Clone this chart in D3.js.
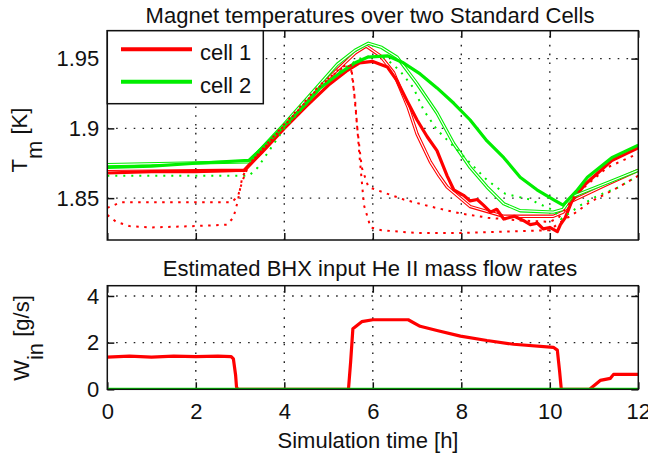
<!DOCTYPE html>
<html>
<head>
<meta charset="utf-8">
<script src="https://cdn.jsdelivr.net/npm/d3@7"></script>
<style>
  body { margin: 0; background: #fff; }
  text { font-family: "Liberation Sans", Arial, sans-serif; fill: #111; }
</style>
</head>
<body>
<div id="chart"></div>
<script>
// ---- data ([time h, value]) ----
var xTicks = [0, 2, 4, 6, 8, 10, 12],
    tempTicks = [1.85, 1.9, 1.95],
    flowTicks = [0, 2, 4];

// cell 1 (red)
var redThick = [[0,1.868],[1,1.869],[2,1.869],[3.1,1.870],[3.5,1.883],[4,1.900],[4.5,1.916],[5,1.931],[5.4,1.941],[5.7,1.947],[6.0,1.948],[6.33,1.944],[6.55,1.934],[6.77,1.920],[7.0,1.906],[7.23,1.894],[7.45,1.884],[7.68,1.866],[7.83,1.856],[8.05,1.852],[8.2,1.848],[8.36,1.849],[8.5,1.845],[8.66,1.840],[8.8,1.842],[8.96,1.835],[9.2,1.837],[9.4,1.834],[9.56,1.831],[9.72,1.832],[9.85,1.828],[10.0,1.829],[10.17,1.826],[10.24,1.831],[10.35,1.836],[10.5,1.848],[10.8,1.860],[11.4,1.877],[12,1.886]];
var redThin = [[0,1.869],[3.1,1.870],[4,1.901],[4.8,1.930],[5.3,1.945],[5.6,1.954],[5.85,1.959],[6.17,1.952],[6.47,1.940],[6.8,1.915],[7.0,1.896],[7.3,1.876],[7.5,1.866],[7.68,1.858],[8.2,1.844],[8.96,1.837],[10.08,1.837],[10.3,1.840],[10.5,1.848],[11.3,1.860],[12,1.870]];
var redDotA = [[0,1.843],[0.3,1.847],[2.8,1.847],[2.95,1.851],[3.05,1.862],[3.2,1.874],[4,1.902],[4.8,1.930],[5.3,1.944],[5.5,1.946],[5.55,1.935],[5.65,1.900],[5.75,1.872],[5.9,1.858],[6.25,1.854],[6.7,1.849],[7.3,1.844],[7.98,1.839],[8.6,1.836],[9.3,1.834],[10.0,1.833],[10.2,1.836],[10.6,1.853],[11.3,1.872],[12,1.882]];
var redDotB = [[0,1.838],[0.2,1.833],[0.5,1.830],[1,1.829],[2,1.830],[2.7,1.831],[2.85,1.836],[2.95,1.848],[3.05,1.865],[3.2,1.874],[4,1.903],[4.8,1.931],[5.3,1.943],[5.5,1.945],[5.6,1.920],[5.7,1.880],[5.8,1.845],[5.95,1.829],[6.2,1.827],[7,1.825],[8,1.825],[9,1.826],[10,1.827],[10.2,1.832],[10.6,1.840],[10.9,1.847],[11.5,1.857],[12,1.866]];
// cell 2 (green)
var greenThick = [[0,1.872],[1,1.873],[2,1.875],[3.2,1.877],[3.5,1.886],[4,1.902],[4.5,1.918],[4.81,1.929],[5.27,1.940],[5.6,1.947],[5.88,1.951],[6.33,1.952],[6.69,1.947],[7.07,1.939],[7.45,1.929],[7.83,1.918],[8.2,1.906],[8.58,1.891],[8.96,1.879],[9.33,1.865],[9.71,1.856],[10.08,1.849],[10.3,1.845],[10.6,1.855],[10.85,1.865],[11.4,1.879],[12,1.888]];
var greenThin = [[0,1.874],[3.2,1.876],[4,1.903],[4.81,1.932],[5.2,1.946],[5.6,1.956],[5.9,1.961],[6.2,1.958],[6.55,1.951],[7.0,1.932],[7.45,1.911],[7.83,1.889],[8.2,1.872],[8.58,1.858],[8.96,1.846],[9.33,1.841],[10.08,1.840],[10.3,1.842],[10.5,1.851],[11.3,1.861],[12,1.870]];
var greenDot = [[0,1.866],[3.2,1.866],[3.4,1.872],[4,1.900],[4.8,1.928],[5.3,1.942],[5.7,1.950],[6.0,1.952],[6.3,1.950],[6.62,1.941],[6.92,1.929],[7.15,1.913],[7.45,1.899],[8.05,1.880],[8.58,1.863],[9.0,1.853],[9.55,1.849],[10.1,1.841],[10.25,1.835],[10.7,1.845],[11.1,1.852],[11.5,1.857],[12,1.866]];

// mass flow rates
var redFlow = [[0,1.38],[0.5,1.42],[1,1.38],[1.5,1.42],[2,1.40],[2.5,1.42],[2.8,1.40],[2.85,1.3],[2.9,0.6],[2.92,0.1],[2.95,0],[5.45,0],[5.5,1.2],[5.55,2.6],[5.75,2.9],[6.0,2.98],[6.8,2.98],[7.07,2.7],[7.45,2.52],[7.98,2.28],[8.58,2.09],[9.18,1.93],[10.08,1.8],[10.17,1.68],[10.22,0.8],[10.26,0],[10.9,0],[11.14,0.38],[11.37,0.47],[11.44,0.64],[12,0.64]];
var greenFlow = [[0,0],[12,0]];

var RED = '#ff0000', GREEN = '#00ee00';

// ---- layout ----
var width = 648, height = 458,
    left = 107.3, right = 638.3,
    top1 = 30.7, bot1 = 240,
    top2 = 285.7, bot2 = 389.3;

var svg = d3.select('#chart').append('svg')
    .attr('width', width)
    .attr('height', height);

var x = d3.scaleLinear().domain([0, 12]).range([left, right]),
    yT = d3.scaleLinear().domain([1.82, 1.97]).range([bot1, top1]),
    yW = d3.scaleLinear().domain([0, 4.44]).range([bot2, top2]);

function drawAxes(y, yTicks, yTop, yBot, showX, clipId) {
  // dotted grid
  var grid = svg.append('g')
      .attr('stroke', '#222')
      .attr('stroke-width', 1.4)
      .attr('stroke-dasharray', '1.6,7.2');
  grid.selectAll('.gx').data(xTicks.slice(1, -1)).enter().append('line')
      .attr('x1', function(d) { return x(d); }).attr('x2', function(d) { return x(d); })
      .attr('y1', yBot).attr('y2', yTop);
  grid.selectAll('.gy').data(yTicks.filter(function(d) { return y(d) > yTop + 1 && y(d) < yBot - 1; })).enter().append('line')
      .attr('y1', function(d) { return y(d); }).attr('y2', function(d) { return y(d); })
      .attr('x1', left).attr('x2', right);

  svg.append('clipPath').attr('id', clipId).append('rect')
      .attr('x', left).attr('y', yTop).attr('width', right - left).attr('height', yBot - yTop);

  // axes with inward ticks on all four sides
  var ax = [
    [d3.axisBottom(x).tickValues(xTicks).tickFormat(showX ? d3.format('d') : ''), 'translate(0,' + yBot + ')'],
    [d3.axisTop(x).tickValues(xTicks).tickFormat(''), 'translate(0,' + yTop + ')'],
    [d3.axisLeft(y).tickValues(yTicks).tickFormat(function(d) { return String(d); }), 'translate(' + left + ',0)'],
    [d3.axisRight(y).tickValues(yTicks).tickFormat(''), 'translate(' + right + ',0)']
  ];
  ax.forEach(function(a, i) {
    var g = svg.append('g')
        .attr('transform', a[1])
        .call(a[0].tickSize(-7).tickSizeOuter(0).tickPadding(i === 0 ? 14 : 8));
    g.select('.domain').remove();
    g.selectAll('line').attr('stroke', '#111').attr('stroke-width', 1.5);
    g.selectAll('text').attr('font-size', 22).attr('fill', '#111')
      .style('font-family', '"Liberation Sans", Arial, sans-serif');
  });
}

function plotLine(data, y, clipId, color, w, dash) {
  var line = d3.line().x(function(d) { return x(d[0]); }).y(function(d) { return y(d[1]); });
  var p = svg.append('path')
      .datum(data)
      .attr('clip-path', 'url(#' + clipId + ')')
      .attr('fill', 'none')
      .attr('stroke', color)
      .attr('stroke-width', w)
      .attr('stroke-linejoin', 'round')
      .attr('d', line);
  if (dash) p.attr('stroke-dasharray', dash);
  return p;
}

// thin model lines render as a pair of hairlines
function plotDouble(data, y, clipId, color) {
  plotLine(data, y, clipId, color, 3.4);
  plotLine(data, y, clipId, '#fff', 1.2);
}

function frame(yTop, yBot) {
  svg.append('rect')
      .attr('x', left).attr('y', yTop)
      .attr('width', right - left).attr('height', yBot - yTop)
      .attr('fill', 'none').attr('stroke', '#111').attr('stroke-width', 1.5);
}

// ---- top panel: magnet temperatures ----
drawAxes(yT, tempTicks, top1, bot1, false, 'clipT');
plotDouble(redThin, yT, 'clipT', RED);
plotLine(redThick, yT, 'clipT', RED, 3.2);
plotDouble(greenThin, yT, 'clipT', GREEN);
plotLine(greenThick, yT, 'clipT', GREEN, 3.2);
plotLine(greenDot, yT, 'clipT', GREEN, 2, '2,6');
plotLine(redDotA, yT, 'clipT', RED, 2, '2.5,5.5');
plotLine(redDotB, yT, 'clipT', RED, 2, '2.5,5.5');
frame(top1, bot1);

// legend
var leg = svg.append('g');
leg.append('rect')
    .attr('x', left).attr('y', top1).attr('width', 156).attr('height', 73)
    .attr('fill', '#fff').attr('stroke', '#111').attr('stroke-width', 1.5);
[['cell 1', RED, 49.3, 60], ['cell 2', GREEN, 81.7, 92.5]].forEach(function(d) {
  leg.append('line').attr('x1', 121).attr('x2', 192).attr('y1', d[2]).attr('y2', d[2])
      .attr('stroke', d[1]).attr('stroke-width', 4);
  leg.append('text').attr('x', 200).attr('y', d[3]).attr('font-size', 22).text(d[0]);
});

svg.append('text').attr('x', 370).attr('y', 23).attr('text-anchor', 'middle')
    .attr('font-size', 22).text('Magnet temperatures over two Standard Cells');

var yl1 = svg.append('text').attr('transform', 'translate(27,140) rotate(-90)')
    .attr('text-anchor', 'middle').attr('font-size', 22);
yl1.append('tspan').text('T');
yl1.append('tspan').attr('dy', 15).text('m');
yl1.append('tspan').attr('dy', -15).text('\u00a0[K]');

// ---- bottom panel: mass flow ----
drawAxes(yW, flowTicks, top2, bot2, true, 'clipW');
plotLine(redFlow, yW, 'clipW', RED, 3.2);
plotLine(greenFlow, yW, 'clipW', GREEN, 3);
frame(top2, bot2);

svg.append('text').attr('x', 370).attr('y', 276).attr('text-anchor', 'middle')
    .attr('font-size', 22).text('Estimated BHX input He II mass flow rates');

var yl2 = svg.append('text').attr('transform', 'translate(29,338) rotate(-90)')
    .attr('text-anchor', 'middle').attr('font-size', 22);
yl2.append('tspan').text('W');
yl2.append('tspan').attr('dy', 14).text('in');
yl2.append('tspan').attr('dy', -14).text('\u00a0[g/s]');

svg.append('text').attr('x', 368).attr('y', 448).attr('text-anchor', 'middle')
    .attr('font-size', 22).text('Simulation time [h]');
</script>
</body>
</html>
